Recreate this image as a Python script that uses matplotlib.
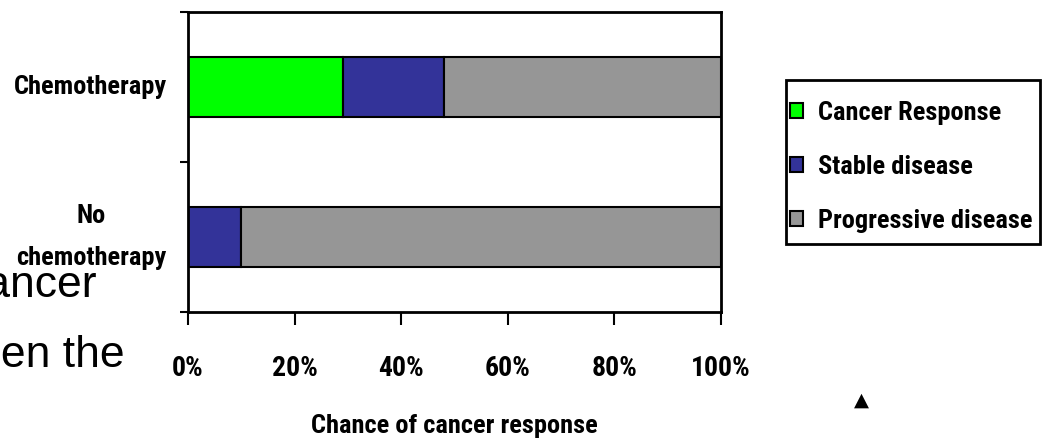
import matplotlib.pyplot as plt
from matplotlib import font_manager
from matplotlib.patches import Rectangle
import numpy as np

CATEGORIAS = ['No\nchemotherapy', 'Chemotherapy']
RESPOSTA = [0, 29]
ESTAVEL = [10, 19]
PROGRESSIVA = [90, 52]
SERIES = ['Cancer Response', 'Stable disease', 'Progressive disease']
CORES = ['#00FF00', '#333399', '#969696']
XTICKS = [0, 20, 40, 60, 80, 100]

# fonte estreita se houver, senao a Liberation Sans normal
nomes = {f.name for f in font_manager.fontManager.ttflist}
FONTE = 'Liberation Sans'
for candidata in ['Liberation Sans Narrow', 'Roboto Condensed',
                  'DejaVu Sans Condensed', 'Open Sans Condensed']:
    if candidata in nomes:
        FONTE = candidata
        break

W, H = 1042, 440
fig = plt.figure(figsize=(W / 100, H / 100), dpi=100)
ax = fig.add_axes([188 / W, 1 - 312 / H, (721 - 188) / W, (312 - 12) / H])

# texto do slide por tras do grafico
fig.text(97 / W, 1 - 297 / H, 'cancer', ha='right', va='baseline',
         fontsize=32, family='Liberation Sans', zorder=0)
fig.text(125 / W, 1 - 367 / H, 'when the', ha='right', va='baseline',
         fontsize=32, family='Liberation Sans', zorder=0)
fig.text(861 / W, 1 - 400 / H, '\u25b2', ha='center', va='center',
         fontsize=14, family='DejaVu Sans')

y = np.arange(len(CATEGORIAS))
esquerda = np.zeros(len(CATEGORIAS))
for nome, valores, cor in zip(SERIES, [RESPOSTA, ESTAVEL, PROGRESSIVA], CORES):
    ax.barh(y, valores, left=esquerda, height=0.4, color=cor,
            edgecolor='black', linewidth=1.5, label=nome)
    esquerda += np.array(valores)

ax.set_xlim(0, 100)
ax.set_ylim(-0.5, 1.5)
ax.set_xticks(XTICKS)
ax.set_xticklabels([f'{v}%' for v in XTICKS], fontsize=20,
                   fontweight='bold', family=FONTE)
ax.set_yticks([-0.5, 0.5, 1.5])
ax.set_yticklabels([])
ax.set_yticks(y, minor=True)
ax.set_yticklabels(CATEGORIAS, minor=True, fontsize=19, fontweight='bold',
                   family=FONTE, ha='center', va='center', linespacing=1.9)
ax.tick_params(axis='y', which='minor', length=0, pad=70)
ax.tick_params(axis='y', which='major', length=6, width=1.5, direction='out')
ax.tick_params(axis='x', length=9, width=1.5, direction='out', pad=22)
for s in ax.spines.values():
    s.set_linewidth(2)

ax.set_xlabel('Chance of cancer response', fontsize=19, fontweight='bold',
              family=FONTE, labelpad=23)

# legenda com moldura propria
fig.patches.append(Rectangle((786 / W, 1 - 244 / H), (1040 - 786) / W,
                             (244 - 80) / H, transform=fig.transFigure,
                             fill=False, edgecolor='black', linewidth=2))
handles, labels = ax.get_legend_handles_labels()
leg = fig.legend(handles, labels, loc='center left',
                 bbox_to_anchor=(786 / W, 1 - 167 / H),
                 prop={'family': FONTE, 'weight': 'bold', 'size': 19},
                 frameon=False, borderaxespad=0, borderpad=0.15,
                 handlelength=0.5, handleheight=0.5, handletextpad=0.55,
                 labelspacing=1.13)

fig.savefig('out.png', dpi=100)
